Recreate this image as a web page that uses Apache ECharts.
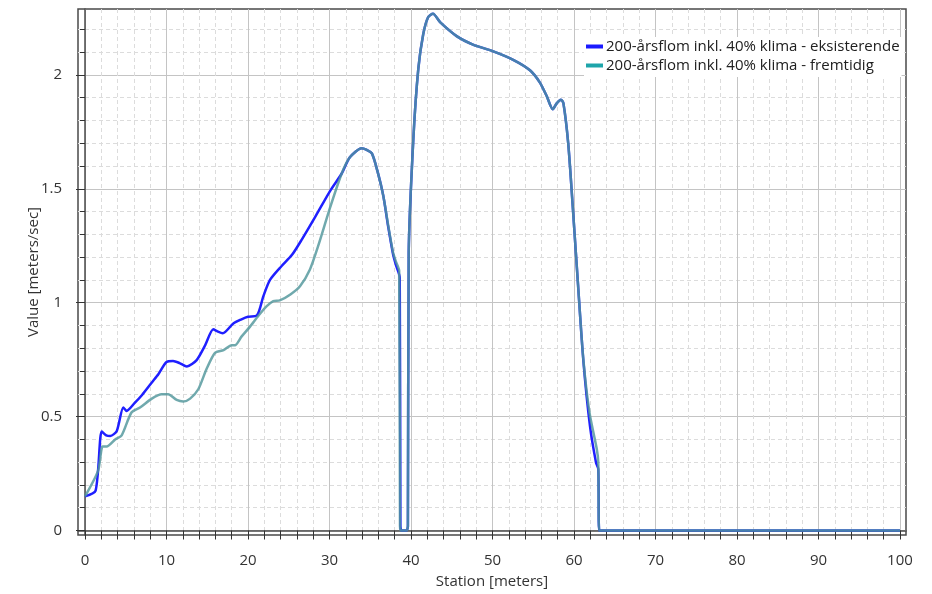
<!DOCTYPE html>
<html>
<head>
<meta charset="utf-8">
<script src="https://cdn.jsdelivr.net/npm/echarts@6/dist/echarts.min.js"></script>
<style>
  html, body { margin: 0; padding: 0; background: #fff; }
  #chart { width: 932px; height: 594px; }
</style>
</head>
<body>
<div id="chart"></div>
<script>
// Velocity profile along the cross-section, two scenarios
const seriesNames = [
  '200-årsflom inkl. 40% klima - eksisterende',
  '200-årsflom inkl. 40% klima - fremtidig'
];

// existing situation
const stationEks = [0, 1.3, 2.05, 2.6, 3.1, 3.9, 4.7, 5.1, 6.1, 7.0, 8.2, 9.0, 10.0, 10.8, 11.6, 12.5, 13.7, 14.7, 15.75, 16.2, 16.9, 18.2, 19.2, 20.0, 21.1, 21.9, 22.7, 24.1, 25.4, 26.6, 28.3, 30.1, 31.5, 32.5, 33.95, 34.5, 35.2, 35.9, 36.6, 37.2, 37.8, 38.2, 38.62, 38.7, 38.85, 39.45, 39.62, 39.72, 40.3, 40.9, 41.5, 42.1, 42.7, 43.6, 45.6, 47.6, 50.1, 52.6, 54.6, 55.8, 56.65, 57.4, 57.9, 58.4, 58.7, 59.3, 59.9, 60.5, 61.15, 61.96, 62.7, 62.98, 63.1, 100];
const valueEks = [0.15, 0.175, 0.435, 0.418, 0.415, 0.437, 0.54, 0.525, 0.56, 0.595, 0.65, 0.686, 0.74, 0.744, 0.735, 0.72, 0.748, 0.81, 0.883, 0.875, 0.866, 0.909, 0.927, 0.938, 0.944, 1.03, 1.10, 1.16, 1.21, 1.277, 1.38, 1.492, 1.567, 1.638, 1.678, 1.672, 1.655, 1.575, 1.469, 1.334, 1.213, 1.16, 1.11, 0.02, 0.0, 0.0, 0.02, 1.22, 1.726, 2.027, 2.178, 2.253, 2.268, 2.23, 2.17, 2.133, 2.103, 2.065, 2.02, 1.967, 1.907, 1.849, 1.876, 1.891, 1.876, 1.696, 1.394, 1.077, 0.746, 0.459, 0.299, 0.27, 0.0, 0.0];

// future situation
const stationFrem = [0, 1.6, 2.17, 2.66, 3.7, 4.5, 5.7, 6.75, 8.2, 9.4, 10.2, 11.25, 12.06, 12.9, 13.9, 14.9, 15.95, 17.0, 18.0, 18.4, 19.2, 20.25, 21.3, 22.3, 23.1, 23.9, 25.2, 26.4, 27.6, 28.6, 30.06, 31.5, 32.5, 33.95, 34.5, 35.2, 35.9, 36.6, 37.2, 37.8, 38.15, 38.55, 38.65, 38.8, 39.45, 39.62, 39.72, 40.3, 40.9, 41.5, 42.1, 42.7, 43.6, 45.6, 47.6, 50.1, 52.6, 54.6, 55.8, 56.65, 57.4, 57.9, 58.4, 58.7, 59.3, 59.9, 60.5, 61.15, 61.9, 62.8, 62.98, 63.1, 100];
const valueFrem = [0.15, 0.262, 0.369, 0.369, 0.40, 0.418, 0.518, 0.54, 0.579, 0.598, 0.598, 0.573, 0.566, 0.579, 0.62, 0.708, 0.78, 0.792, 0.813, 0.813, 0.851, 0.895, 0.944, 0.985, 1.007, 1.01, 1.036, 1.073, 1.146, 1.248, 1.416, 1.567, 1.638, 1.678, 1.672, 1.655, 1.575, 1.469, 1.34, 1.22, 1.18, 1.14, 0.02, 0.0, 0.0, 0.02, 1.22, 1.726, 2.027, 2.178, 2.253, 2.268, 2.23, 2.17, 2.133, 2.103, 2.065, 2.02, 1.967, 1.907, 1.849, 1.876, 1.891, 1.876, 1.696, 1.394, 1.077, 0.75, 0.518, 0.357, 0.3, 0.0, 0.0];

// axis ticks and labels
const xMinorTicks = [0, 2, 4, 6, 8, 10, 12, 14, 16, 18, 20, 22, 24, 26, 28, 30, 32, 34, 36, 38, 40, 42, 44, 46, 48, 50, 52, 54, 56, 58, 60, 62, 64, 66, 68, 70, 72, 74, 76, 78, 80, 82, 84, 86, 88, 90, 92, 94, 96, 98, 100];
const xMajorTicks = [0, 10, 20, 30, 40, 50, 60, 70, 80, 90, 100];
const yMinorTicks = [0, 0.1, 0.2, 0.3, 0.4, 0.5, 0.6, 0.7, 0.8, 0.9, 1, 1.1, 1.2, 1.3, 1.4, 1.5, 1.6, 1.7, 1.8, 1.9, 2, 2.1, 2.2];
const yMajorTicks = [0, 0.5, 1, 1.5, 2];

const FONT = '"Open Sans", "Noto Sans", sans-serif';
const X_RANGE = { min: -0.86, max: 100.74 };
const Y_RANGE = { min: -0.0197, max: 2.289 };

const pairs = (xs, ys) => xs.map((x, i) => [x, ys[i]]);

const chart = echarts.init(document.getElementById('chart'), null, { renderer: 'canvas' });

chart.setOption({
  backgroundColor: '#ffffff',
  animation: false,
  grid: {
    left: 78, right: 26, top: 9, bottom: 58,
    show: true,
    backgroundColor: '#ffffff',
    borderColor: '#4a4a4a',
    borderWidth: 1.5
  },
  legend: {
    orient: 'vertical',
    left: 584,
    top: 37,
    itemGap: 4,
    itemWidth: 17,
    itemHeight: 4,
    icon: 'rect',
    backgroundColor: '#ffffff',
    padding: [2, 2, 4, 2],
    textStyle: { fontFamily: FONT, fontSize: 15, color: '#202020', padding: [0, 0, 0, -2] },
    data: [
      { name: seriesNames[0], itemStyle: { color: '#1a1aff' } },
      { name: seriesNames[1], itemStyle: { color: '#1ea5aa' } }
    ]
  },
  xAxis: [
    {
      type: 'value', position: 'bottom', ...X_RANGE,
      name: 'Station [meters]', nameLocation: 'middle', nameGap: 39,
      nameTextStyle: { fontFamily: FONT, fontSize: 15, color: '#333' },
      axisLine: { show: true, lineStyle: { color: '#4a4a4a', width: 1.5 } },
      axisTick: { show: true, customValues: xMinorTicks, length: 9, lineStyle: { color: '#333' } },
      axisLabel: { customValues: xMajorTicks, margin: 18, fontFamily: FONT, fontSize: 15, color: '#333' },
      splitLine: { show: true, lineStyle: { color: '#dcdcdc', type: [4, 3], width: 1 } }
    },
    {
      type: 'value', position: 'bottom', ...X_RANGE,
      axisLine: { show: false },
      axisTick: { show: false, customValues: xMajorTicks },
      axisLabel: { show: false },
      splitLine: { show: true, lineStyle: { color: '#c4c4c4', width: 1 } }
    }
  ],
  yAxis: [
    {
      type: 'value', position: 'left', ...Y_RANGE,
      name: 'Value [meters/sec]', nameLocation: 'middle', nameGap: 37,
      nameTextStyle: { fontFamily: FONT, fontSize: 15, color: '#333' },
      axisLine: { show: true, lineStyle: { color: '#4a4a4a', width: 1.5 } },
      axisTick: { show: true, customValues: yMinorTicks, length: 5, lineStyle: { color: '#333' } },
      axisLabel: { show: false },
      splitLine: { show: true, lineStyle: { color: '#dcdcdc', type: [4, 3], width: 1 } }
    },
    {
      type: 'value', position: 'left', ...Y_RANGE,
      axisLine: { show: false },
      axisTick: { show: true, customValues: yMajorTicks, length: 9, lineStyle: { color: '#333' } },
      axisLabel: { customValues: yMajorTicks, margin: 16, fontFamily: FONT, fontSize: 15, color: '#333' },
      splitLine: { show: true, lineStyle: { color: '#c4c4c4', width: 1 } }
    }
  ],
  series: [
    {
      name: seriesNames[0], type: 'line', xAxisIndex: 0, yAxisIndex: 0,
      data: pairs(stationEks, valueEks),
      showSymbol: false, smooth: 0.25,
      itemStyle: { color: '#1a1aff' },
      lineStyle: { color: '#1f1fff', width: 2.5, join: 'round' },
      z: 3
    },
    {
      name: seriesNames[1], type: 'line', xAxisIndex: 0, yAxisIndex: 0,
      data: pairs(stationFrem, valueFrem),
      showSymbol: false, smooth: 0.25,
      itemStyle: { color: '#1ea5aa' },
      lineStyle: { color: 'rgba(80,150,155,0.82)', width: 2.5, join: 'round' },
      z: 4
    }
  ]
});
</script>
</body>
</html>
